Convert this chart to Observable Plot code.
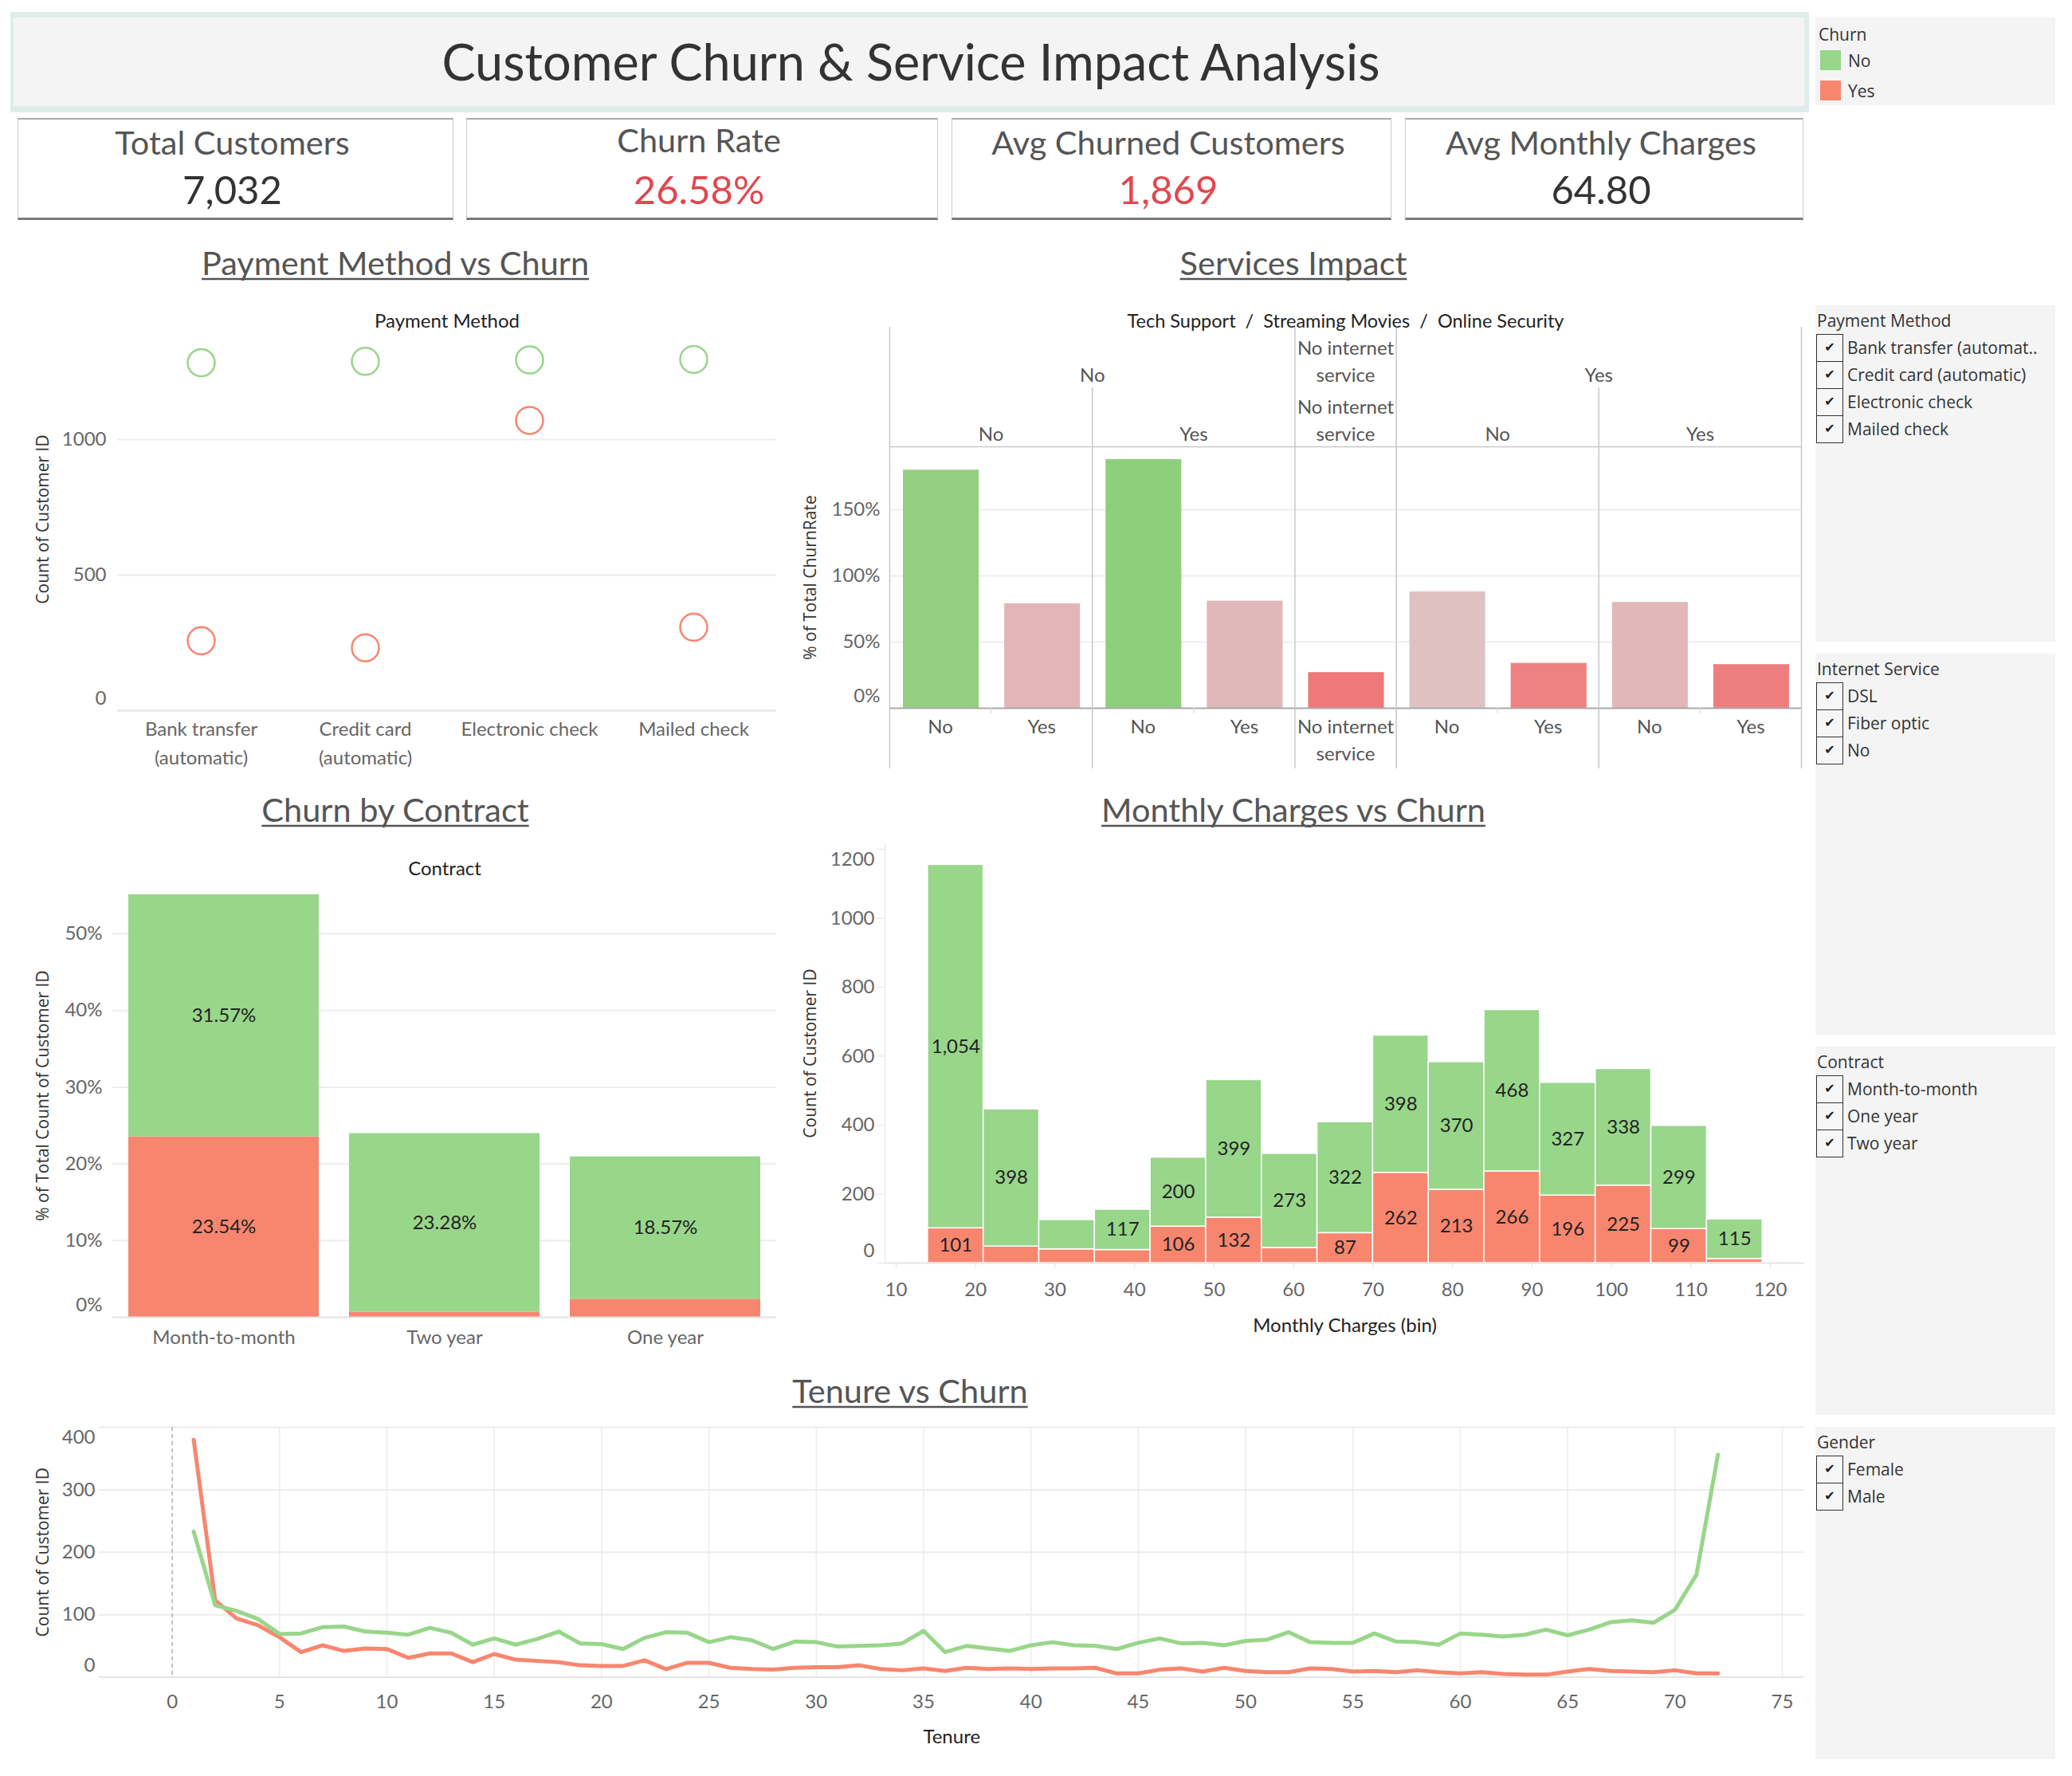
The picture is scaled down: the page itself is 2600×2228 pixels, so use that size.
<!DOCTYPE html>
<html>
<head>
<meta charset="utf-8">
<title>Customer Churn &amp; Service Impact Analysis</title>
<script src="https://cdn.jsdelivr.net/npm/d3@7"></script>
<script src="https://cdn.jsdelivr.net/npm/@observablehq/plot@0.6"></script>
<style>
  html, body { margin: 0; padding: 0; background: #fff; }
  body { position: relative; width: 2600px; height: 2228px; overflow: hidden; font-family: Lato, "Noto Sans", sans-serif; }
  .abs { position: absolute; }
  .banner { background: #dfecea; }
  .banner-inner { background: #f4f4f4; }
  .card { background: #fff; border: 1px solid #c8c8c8; border-top: 2px solid #ababab; border-bottom: 3px solid #7a7a7a; box-sizing: border-box; }
  .panel { background: #f4f4f4; }
  .ltext { font-family: "Open Sans", Lato, sans-serif; font-size: 21px; color: #333; white-space: nowrap; line-height: 34px; height: 34px; }
  .box { box-sizing: border-box; border: 1.5px solid #333; background: #f6f6f6; font-family: "DejaVu Sans", sans-serif; font-size: 16px; line-height: 31px; text-align: center; color: #222; }
  svg.overlay { position: absolute; left: 0; top: 0; pointer-events: none; }
</style>
</head>
<body>
<script>
// ---------------- data ----------------
const churnClasses = ["No", "Yes"];

const kpiLabels = ["Total Customers", "Churn Rate", "Avg Churned Customers", "Avg Monthly Charges"];
const kpiValues = ["7,032", "26.58%", "1,869", "64.80"];

const paymentMethods = ["Bank transfer (automatic)", "Credit card (automatic)", "Electronic check", "Mailed check"];
const paymentNo = [1284, 1289, 1294, 1296];
const paymentYes = [258, 232, 1071, 308];

const svcTechSupport = ["No", "No", "No", "No", "No internet service", "Yes", "Yes", "Yes", "Yes"];
const svcStreamingMovies = ["No", "No", "Yes", "Yes", "No internet service", "No", "No", "Yes", "Yes"];
const svcOnlineSecurity = ["No", "Yes", "No", "Yes", "No internet service", "No", "Yes", "No", "Yes"];
const svcChurnRatePct = [180, 79, 188, 81, 27, 88, 34, 80, 33];

const contracts = ["Month-to-month", "Two year", "One year"];
const contractNoPct = [31.57, 23.28, 18.57];
const contractYesPct = [23.54, 0.68, 2.36];

const chargeBinStart = [14, 21, 28, 35, 42, 49, 56, 63, 70, 77, 84, 91, 98, 105, 112];
const chargeBinSize = 7;
const chargeNo = [1054, 398, 85, 117, 200, 399, 273, 322, 398, 370, 468, 327, 338, 299, 115];
const chargeYes = [101, 48, 40, 38, 106, 132, 44, 87, 262, 213, 266, 196, 225, 99, 12];

const tenureMonths = [1, 2, 3, 4, 5, 6, 7, 8, 9, 10, 11, 12, 13, 14, 15, 16, 17, 18, 19, 20, 21, 22, 23, 24,
  25, 26, 27, 28, 29, 30, 31, 32, 33, 34, 35, 36, 37, 38, 39, 40, 41, 42, 43, 44, 45, 46, 47, 48,
  49, 50, 51, 52, 53, 54, 55, 56, 57, 58, 59, 60, 61, 62, 63, 64, 65, 66, 67, 68, 69, 70, 71, 72];
const tenureNo = [233, 115, 106, 93, 69, 70, 80, 81, 73, 71, 68, 79, 71, 52, 62, 52, 61, 73, 54, 53, 45, 63, 72, 71,
  56, 64, 59, 45, 57, 56, 49, 50, 51, 54, 74, 40, 50, 46, 42, 51, 56, 51, 50, 45, 55, 62, 54, 55,
  51, 58, 60, 72, 56, 55, 55, 70, 57, 56, 52, 70, 68, 65, 68, 76, 67, 76, 88, 91, 87, 108, 164, 356];
const tenureYes = [380, 123, 94, 83, 64, 40, 51, 42, 46, 45, 31, 38, 38, 24, 37, 28, 26, 24, 19, 18, 18, 27, 13, 23,
  23, 15, 13, 12, 15, 16, 16, 19, 13, 11, 14, 10, 15, 13, 14, 13, 14, 14, 15, 6, 6, 12, 14, 9,
  15, 10, 8, 8, 14, 13, 9, 10, 8, 11, 8, 6, 8, 5, 4, 4, 9, 13, 10, 9, 8, 11, 6, 6];

const filterPaymentItems = ["Bank transfer (automat..", "Credit card (automatic)", "Electronic check", "Mailed check"];
const filterInternetItems = ["DSL", "Fiber optic", "No"];
const filterContractItems = ["Month-to-month", "One year", "Two year"];
const filterGenderItems = ["Female", "Male"];

// ---------------- styling ----------------
const COLOR = {No: "#98d68a", Yes: "#f8866f"};
const churnColor = {domain: churnClasses, range: churnClasses.map(c => COLOR[c])};
const FONT = "Lato, 'Noto Sans', sans-serif";
const TITLE_FONT = "'Open Sans', Lato, sans-serif";
const plotStyle = {fontFamily: FONT, fontSize: "24px", color: "#666", background: "transparent", overflow: "visible", maxWidth: "none"};
const GRID = "#ededed";
const KPI_COLORS = ["#333", "#e2474e", "#e2474e", "#333"];
const plain = d3.format("d");
const EDGE_SHIFT = 15; // end-of-axis labels are nudged inside the frame

// vertical axis title drawn at the left edge of a plot frame
const yTitle = (text, dx) => Plot.text([text], {frameAnchor: "left", textAnchor: "middle", rotate: -90, dx,
  fill: "#333", fontSize: 21, fontFamily: TITLE_FONT});

// left axis whose lowest (and optionally highest) label sits just inside the frame
function edgeAxisY(ticks, opts, shiftTop = false) {
  const inner = ticks.slice(1, shiftTop ? -1 : undefined);
  const marks = [
    Plot.axisY({...opts, ticks: inner, label: null}),
    Plot.axisY({...opts, ticks: [ticks[0]], label: null, dy: -EDGE_SHIFT})
  ];
  if (shiftTop) marks.push(Plot.axisY({...opts, ticks: [ticks[ticks.length - 1]], label: null, dy: EDGE_SHIFT - 2}));
  return marks;
}

function mount(left, top, node) {
  const div = document.createElement("div");
  div.className = "abs";
  div.style.left = left + "px";
  div.style.top = top + "px";
  div.appendChild(node);
  document.body.appendChild(div);
  return div;
}
function box(cls, left, top, width, height) {
  const div = document.createElement("div");
  div.className = "abs " + cls;
  Object.assign(div.style, {left: left + "px", top: top + "px", width: width + "px", height: height + "px"});
  document.body.appendChild(div);
  return div;
}

// ---------------- frames: banner, cards, side panels ----------------
box("banner", 13, 15, 2257, 126);
box("banner-inner", 17, 22, 2247, 111);
const cardX = [[22, 569], [585, 1177], [1194, 1746], [1763, 2263]];
cardX.forEach(([a, b]) => box("card", a, 148, b - a, 128));

// Churn colour legend
const legendPanel = box("panel", 2278, 22, 301, 110);
{
  const t = document.createElement("div");
  t.className = "abs ltext";
  t.style.left = "4px"; t.style.top = (43 - 22 - 17) + "px";
  t.textContent = "Churn";
  legendPanel.appendChild(t);
  churnClasses.forEach((c, i) => {
    const sw = document.createElement("div");
    sw.className = "abs";
    Object.assign(sw.style, {left: "6px", top: (63 + i * 38 - 22) + "px", width: "26px", height: "25px", background: COLOR[c]});
    legendPanel.appendChild(sw);
    const lab = document.createElement("div");
    lab.className = "abs ltext";
    lab.style.left = "41px"; lab.style.top = (76 + i * 38 - 22 - 17) + "px";
    lab.textContent = c;
    legendPanel.appendChild(lab);
  });
}

// Filter lists
function filterPanel(title, items, top, height) {
  const p = box("panel", 2278, top, 301, height);
  const t = document.createElement("div");
  t.className = "abs ltext";
  t.style.left = "2px"; t.style.top = (19 - 17) + "px";
  t.textContent = title;
  p.appendChild(t);
  items.forEach((it, i) => {
    const cb = document.createElement("div");
    cb.className = "abs box";
    Object.assign(cb.style, {left: "1px", top: (36 + i * 34) + "px", width: "34px", height: "35px"});
    cb.textContent = "\u2714";
    p.appendChild(cb);
    const lab = document.createElement("div");
    lab.className = "abs ltext";
    lab.style.left = "40px"; lab.style.top = (53 + i * 34 - 17) + "px";
    lab.textContent = it;
    p.appendChild(lab);
  });
}
filterPanel("Payment Method", filterPaymentItems, 383, 422);
filterPanel("Internet Service", filterInternetItems, 820, 478);
filterPanel("Contract", filterContractItems, 1313, 462);
filterPanel("Gender", filterGenderItems, 1790, 417);

// ---------------- Payment Method vs Churn ----------------
const payRows = paymentMethods.flatMap((m, i) => [
  {method: m, churn: "No", count: paymentNo[i]},
  {method: m, churn: "Yes", count: paymentYes[i]}
]);
mount(0, 370, Plot.plot({
  width: 1000, height: 610,
  marginLeft: 147, marginRight: 26, marginTop: 41, marginBottom: 89,
  style: plotStyle,
  x: {type: "band", domain: paymentMethods, padding: 0},
  y: {domain: [0, 1412]},
  color: churnColor,
  marks: [
    Plot.ruleY([500, 1000], {stroke: GRID, strokeWidth: 2}),
    Plot.ruleY([0], {stroke: "#e2e2e2", strokeWidth: 2}),
    ...edgeAxisY([0, 500, 1000], {tickFormat: plain, tickSize: 0, tickPadding: 14}),
    Plot.axisX({tickSize: 0, tickPadding: 6, label: null, lineHeight: 1.5,
      tickFormat: d => d.replace(" (", "\n(")}),
    Plot.dot(payRows, {x: "method", y: "count", stroke: "churn", r: 17, strokeWidth: 2.5}),
    Plot.text(["Payment Method"], {frameAnchor: "top", dy: -18, fill: "#222", fontSize: 24}),
    yTitle("Count of Customer ID", -93)
  ]
}));

// ---------------- Services Impact ----------------
const svcCells = svcChurnRatePct.map((v, i) => ({i, v, label: svcOnlineSecurity[i]}));
function runs(keys) {
  const out = [];
  let start = 0;
  for (let i = 1; i <= keys.length; i++) {
    if (i === keys.length || keys[i] !== keys[start]) { out.push({start, end: i}); start = i; }
  }
  return out;
}
const svcLevel1 = runs(svcTechSupport).map(r => ({...r, label: svcTechSupport[r.start]}));
const svcLevel2 = runs(svcTechSupport.map((t, i) => t + "|" + svcStreamingMovies[i]))
  .map(r => ({...r, label: svcStreamingMovies[r.start]}));
const svcOuter = [0, ...svcLevel1.map(r => r.end)];
const svcMid = svcLevel2.map(r => r.end).filter(e => !svcOuter.includes(e));
const svcInner = svcCells.map(c => c.i + 1).filter(e => !svcOuter.includes(e) && !svcMid.includes(e));
const wrapLabel = s => s.replace("No internet service", "No internet\nservice");
const SVC_Y_MAX = 197.6;
const svcH = 610, svcTop = 190, svcBottom = 92;

mount(1000, 370, Plot.plot({
  width: 1280, height: svcH,
  marginLeft: 116, marginRight: 20, marginTop: svcTop, marginBottom: svcBottom,
  style: plotStyle,
  x: {domain: [0, svcCells.length], axis: null},
  y: {domain: [0, SVC_Y_MAX]},
  color: {type: "linear", domain: [25, 90, 190], range: ["#f07676", "#dfc3c4", "#8ccf7a"]},
  marks: [
    Plot.ruleY([50, 100, 150], {stroke: GRID, strokeWidth: 2}),
    Plot.rect(svcCells, {x1: "i", x2: d => d.i + 1, y1: () => 0, y2: "v", fill: "v", insetLeft: 17, insetRight: 15}),
    Plot.ruleY([SVC_Y_MAX], {stroke: "#c9c9c9", strokeWidth: 1.5}),
    Plot.ruleY([0], {stroke: "#a9a9a9", strokeWidth: 2}),
    Plot.ruleX(svcOuter, {stroke: "#c9c9c9", strokeWidth: 1.5, insetTop: -150, insetBottom: -76}),
    Plot.ruleX(svcMid, {stroke: "#c9c9c9", strokeWidth: 1.5, insetTop: -74, insetBottom: -76}),
    Plot.ruleX(svcInner, {stroke: "#e0e0e0", strokeWidth: 1.5, insetTop: svcH - svcTop - svcBottom, insetBottom: -7}),
    ...edgeAxisY([0, 50, 100, 150], {tickFormat: d => d + "%", tickSize: 0, tickPadding: 12}),
    Plot.text(svcLevel1, {x: r => (r.start + r.end) / 2, text: r => wrapLabel(r.label),
      frameAnchor: "top", lineAnchor: "bottom", dy: -82, lineHeight: 1.4, fill: "#555"}),
    Plot.text(svcLevel2, {x: r => (r.start + r.end) / 2, text: r => wrapLabel(r.label),
      frameAnchor: "top", lineAnchor: "bottom", dy: -8, lineHeight: 1.4, fill: "#555"}),
    Plot.text(svcCells, {x: d => d.i + 0.5, text: d => wrapLabel(d.label),
      frameAnchor: "bottom", lineAnchor: "top", dy: 8, lineHeight: 1.4, fill: "#555"}),
    Plot.text(["Tech Support  /  Streaming Movies  /  Online Security"], {frameAnchor: "top", dy: -166, fill: "#222", fontSize: 23.5}),
    yTitle("% of Total ChurnRate", -99)
  ]
}));

// ---------------- Churn by Contract ----------------
const contractRows = contracts.flatMap((c, i) => [
  {contract: c, churn: "Yes", pct: contractYesPct[i]},
  {contract: c, churn: "No", pct: contractNoPct[i]}
]);
mount(0, 1040, Plot.plot({
  width: 1000, height: 700,
  marginLeft: 141, marginRight: 26, marginTop: 56, marginBottom: 88,
  style: plotStyle,
  x: {domain: contracts, paddingInner: 0.137, paddingOuter: 0.068},
  y: {domain: [0, 57.8]},
  color: churnColor,
  marks: [
    Plot.ruleY([10, 20, 30, 40, 50], {stroke: GRID, strokeWidth: 2}),
    Plot.barY(contractRows, {x: "contract", y: "pct", fill: "churn"}),
    Plot.ruleY([0], {stroke: "#e2e2e2", strokeWidth: 2}),
    Plot.text(contractRows, Plot.stackY({x: "contract", y: "pct",
      text: d => d.pct >= 5 ? d.pct.toFixed(2) + "%" : "", fill: "#222", fontSize: 24})),
    ...edgeAxisY([0, 10, 20, 30, 40, 50], {tickFormat: d => d + "%", tickSize: 0, tickPadding: 13}),
    Plot.axisX({tickSize: 0, tickPadding: 16, label: null}),
    Plot.text(["Contract"], {frameAnchor: "top", dy: -16, fill: "#222", fontSize: 24}),
    yTitle("% of Total Count of Customer ID", -87)
  ]
}));

// ---------------- Monthly Charges vs Churn ----------------
const chargeSegments = chargeBinStart.flatMap((b, i) => [
  {x1: b, x2: b + chargeBinSize, y1: 0, y2: chargeYes[i], churn: "Yes", n: chargeYes[i]},
  {x1: b, x2: b + chargeBinSize, y1: chargeYes[i], y2: chargeYes[i] + chargeNo[i], churn: "No", n: chargeNo[i]}
]);
const chargeDomain = [8.6, 124.3];
mount(1000, 1040, Plot.plot({
  width: 1280, height: 700,
  marginLeft: 110, marginRight: 16, marginTop: 18, marginBottom: 156,
  style: plotStyle,
  x: {domain: chargeDomain},
  y: {domain: [0, 1216]},
  color: churnColor,
  marks: [
    Plot.rect(chargeSegments, {x1: "x1", x2: "x2", y1: "y1", y2: "y2", fill: "churn", stroke: "white", strokeWidth: 1.5}),
    Plot.ruleY([0], {stroke: "#e6e6e6", strokeWidth: 2}),
    Plot.ruleX([chargeDomain[0]], {stroke: "#ececec", strokeWidth: 1.5}),
    Plot.text(chargeSegments.filter(d => d.n >= 86), {x: d => (d.x1 + d.x2) / 2, y: d => (d.y1 + d.y2) / 2,
      text: d => d3.format(",")(d.n), fill: "#222", fontSize: 24}),
    Plot.axisY({ticks: [0, 200, 400, 600, 800, 1000, 1200], tickFormat: () => "", tickSize: 10, stroke: "#e3e3e3", label: null}),
    ...edgeAxisY([0, 200, 400, 600, 800, 1000, 1200], {tickFormat: plain, tickSize: 0, tickPadding: 13}, true),
    Plot.axisX({ticks: [10, 20, 30, 40, 50, 60, 70, 80, 90, 100, 110, 120], tickSize: 7, tickPadding: 17, stroke: "#e3e3e3", label: null}),
    Plot.text(["Monthly Charges (bin)"], {frameAnchor: "bottom", dy: 86, fill: "#222", fontSize: 24}),
    yTitle("Count of Customer ID", -93)
  ]
}));

// ---------------- Tenure vs Churn ----------------
const tenureRows = [
  ...tenureMonths.map((t, i) => ({tenure: t, churn: "Yes", count: tenureYes[i]})),
  ...tenureMonths.map((t, i) => ({tenure: t, churn: "No", count: tenureNo[i]}))
];
mount(0, 1776, Plot.plot({
  width: 2280, height: 452,
  marginLeft: 124, marginRight: 16.5, marginTop: 14, marginBottom: 124.5,
  style: plotStyle,
  x: {domain: [-3.4, 76.02]},
  y: {domain: [0, 400]},
  color: churnColor,
  marks: [
    Plot.gridX({ticks: [5, 10, 15, 20, 25, 30, 35, 40, 45, 50, 55, 60, 65, 70, 75], stroke: "#ececec", strokeOpacity: 1, strokeWidth: 1.5}),
    Plot.gridY({ticks: [100, 200, 300, 400], stroke: "#ececec", strokeOpacity: 1, strokeWidth: 2}),
    Plot.ruleY([0], {stroke: "#e6e6e6", strokeWidth: 2}),
    Plot.ruleX([0], {stroke: "#9a9a9a", strokeDasharray: "5,4", strokeWidth: 1.2}),
    Plot.line(tenureRows, {x: "tenure", y: "count", stroke: "churn", strokeWidth: 5}),
    ...edgeAxisY([0, 100, 200, 300, 400], {tickFormat: plain, tickSize: 0, tickPadding: 5}, true),
    Plot.axisX({ticks: [0, 5, 10, 15, 20, 25, 30, 35, 40, 45, 50, 55, 60, 65, 70, 75], tickSize: 0, tickPadding: 22, label: null}),
    Plot.text(["Tenure"], {frameAnchor: "bottom", dy: 83, fill: "#222", fontSize: 24}),
    yTitle("Count of Customer ID", -70)
  ]
}));

// ---------------- titles & KPI text ----------------
const overlay = d3.select("body").append("svg")
  .attr("class", "overlay").attr("width", 2600).attr("height", 2228)
  .style("font-family", FONT);

function addText(txt, x, baseline, size, fill) {
  return overlay.append("text")
    .attr("x", x).attr("y", baseline)
    .attr("text-anchor", "middle")
    .attr("font-size", size)
    .attr("fill", fill)
    .text(txt);
}

addText("Customer Churn & Service Impact Analysis", 1143, 101, 63, "#333");

cardX.forEach(([a, b], i) => {
  const cx = (a + b) / 2 - 4;
  addText(kpiLabels[i], cx, i === 1 ? 191 : 194, 41.5, "#555");
  addText(kpiValues[i], cx, 256, 49, KPI_COLORS[i]);
});

const sectionTitles = [
  ["Payment Method vs Churn", 496, 345],
  ["Services Impact", 1623, 345],
  ["Churn by Contract", 496, 1031],
  ["Monthly Charges vs Churn", 1623, 1031],
  ["Tenure vs Churn", 1142, 1760]
];
sectionTitles.forEach(([t, x, y]) => {
  const node = addText(t, x, y, 41.5, "#555").node();
  const w = node.getComputedTextLength();
  overlay.append("line")
    .attr("x1", x - w / 2).attr("x2", x + w / 2)
    .attr("y1", y + 5).attr("y2", y + 5)
    .attr("stroke", "#555").attr("stroke-width", 2.5);
});
</script>
</body>
</html>
